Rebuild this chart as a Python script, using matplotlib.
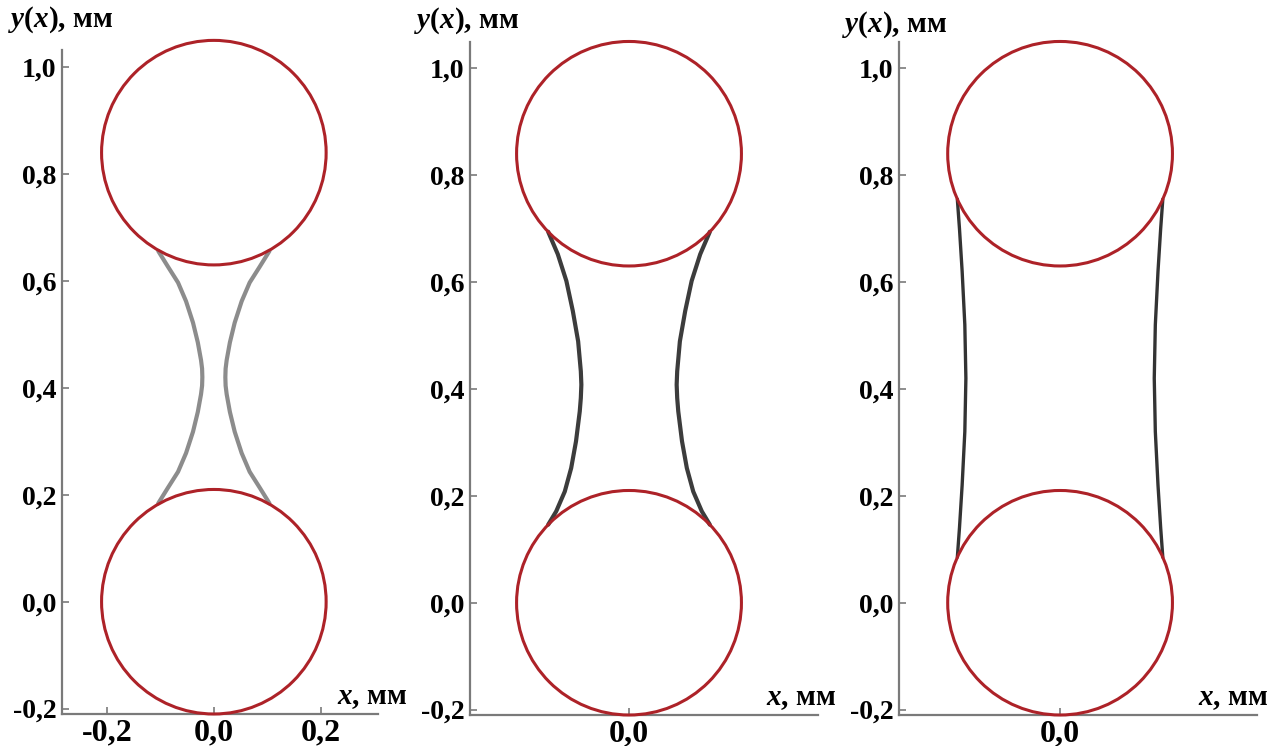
import numpy as np
import matplotlib
matplotlib.use("Agg")
import matplotlib.pyplot as plt
from matplotlib.patches import Circle

plt.rcParams['font.family'] = ['Liberation Serif', 'DejaVu Serif']
plt.rcParams['mathtext.fontset'] = 'custom'
plt.rcParams['mathtext.it'] = 'Liberation Serif:italic:bold'
plt.rcParams['mathtext.rm'] = 'Liberation Serif:bold'

# particles (mm)
particle_y = [0.0, 0.84]
particle_r = 0.21

# meniscus profiles, right half (left is the mirror image)
bridge_y = [
    [0.656, 0.627, 0.597, 0.562, 0.522, 0.485, 0.452, 0.436, 0.42, 0.404,
     0.388, 0.355, 0.318, 0.278, 0.243, 0.213, 0.184],
    [0.694, 0.652, 0.602, 0.546, 0.489, 0.433, 0.408, 0.383, 0.358, 0.302,
     0.252, 0.208, 0.171, 0.146],
    [0.755, 0.70, 0.62, 0.52, 0.42, 0.32, 0.22, 0.14, 0.085],
]
bridge_x = [
    [0.104, 0.086, 0.067, 0.052, 0.039, 0.030, 0.024, 0.022, 0.0215, 0.022,
     0.024, 0.030, 0.039, 0.052, 0.067, 0.086, 0.104],
    [0.151, 0.133, 0.117, 0.105, 0.095, 0.090, 0.089, 0.090, 0.092, 0.099,
     0.108, 0.120, 0.136, 0.151],
    [0.192, 0.188, 0.183, 0.178, 0.176, 0.178, 0.183, 0.188, 0.192],
]
bridge_colors = ['#8c8c8c', '#3c3c3c', '#333333']
bridge_lw = [3.0, 3.0, 2.4]

y_ticks = [-0.2, 0.0, 0.2, 0.4, 0.6, 0.8, 1.0]
x_ticks = [[-0.2, 0.0, 0.2], [0.0], [0.0]]

W, H = 1276, 746
fig = plt.figure(figsize=(W / 100, H / 100), dpi=100)

# axes boxes in pixels: left, top, right, bottom
boxes = [(62, 50, 378, 714), (470, 42, 818, 715), (899, 42, 1257, 715)]
xlims = [(-0.284, 0.307), (-0.297, 0.353), (-0.301, 0.368)]
ylims = [(-0.21, 1.032), (-0.21, 1.049), (-0.21, 1.049)]
ylab_pos = [(8, 27), (414, 28), (842, 32)]
xlab_pos = [(407, 704), (836, 705), (1268, 705)]

axis_col = '#7a7a7a'

for i in range(3):
    l, t, r, b = boxes[i]
    ax = fig.add_axes([l / W, 1 - b / H, (r - l) / W, (b - t) / H])
    ax.set_xlim(*xlims[i])
    ax.set_ylim(*ylims[i])
    for s in ['top', 'right']:
        ax.spines[s].set_visible(False)
    for s in ['left', 'bottom']:
        ax.spines[s].set_color(axis_col)
        ax.spines[s].set_linewidth(1.6)
    ax.tick_params(direction='in', length=5, width=1.2, color=axis_col)
    ax.tick_params(axis='y', labelsize=20, pad=4)
    ax.tick_params(axis='x', labelsize=23, pad=3)
    ax.set_yticks(y_ticks)
    ax.set_yticklabels([f"{v:.1f}".replace('.', ',') for v in y_ticks], fontweight='bold')
    ax.set_xticks(x_ticks[i])
    ax.set_xticklabels([f"{v:.1f}".replace('.', ',') for v in x_ticks[i]], fontweight='bold')

    bx = np.array(bridge_x[i])
    by = np.array(bridge_y[i])
    for sgn in (1, -1):
        ax.plot(sgn * bx, by, color=bridge_colors[i], lw=bridge_lw[i],
                solid_capstyle='round', solid_joinstyle='round', zorder=2)

    for cy in particle_y:
        ax.add_patch(Circle((0.0, cy), particle_r, fill=False, ec='#ad2228',
                            lw=2.2, clip_on=False, zorder=3))

    fig.text(ylab_pos[i][0] / W, 1 - ylab_pos[i][1] / H, r'$y(x)$, мм',
             fontsize=21, fontweight='bold', ha='left', va='baseline')
    fig.text(xlab_pos[i][0] / W, 1 - xlab_pos[i][1] / H, r'$x$, мм',
             fontsize=21, fontweight='bold', ha='right', va='baseline')

fig.savefig('out.png', dpi=100, facecolor='white')
